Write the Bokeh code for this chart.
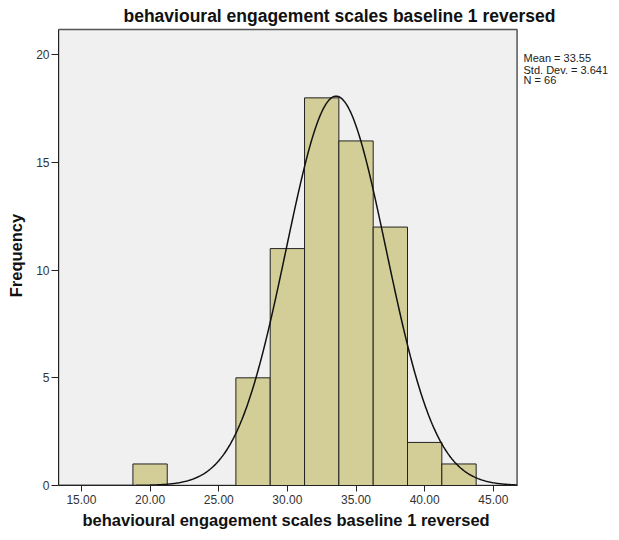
import math
from bokeh.plotting import figure
from bokeh.models import Range1d, FixedTicker, CustomJSTickFormatter, Title
from bokeh.core.properties import value
from bokeh.embed import file_html
from bokeh.resources import INLINE

# Histogram data (bin edges and counts)
bin_left = [18.75, 26.25, 28.75, 31.25, 33.75, 36.25, 38.75, 41.25]
bin_right = [21.25, 28.75, 31.25, 33.75, 36.25, 38.75, 41.25, 43.75]
counts = [1, 5, 11, 18, 16, 12, 2, 1]

mean = 33.55
std_dev = 3.641
n_obs = 66
bin_width = 2.5

x_ticks = [15, 20, 25, 30, 35, 40, 45]
y_ticks = [0, 5, 10, 15, 20]
stats_lines = ["Mean = 33.55", "Std. Dev. = 3.641", "N = 66"]

X0, X1 = 13.33, 46.73      # plot panel extent
Y1 = 21.17

p = figure(width=612, height=532, output_backend="svg", toolbar_location=None,
           x_range=Range1d(X0, 53.68), y_range=Range1d(0, 21.36),
           min_border_left=58, min_border_right=0, min_border_top=25, min_border_bottom=47)

p.background_fill_color = "white"
p.border_fill_color = "white"
p.outline_line_color = None
p.grid.visible = False

# gray plot panel
p.quad(left=[X0], right=[X1], bottom=[0], top=[Y1],
       fill_color="#F0F0F0", line_color="#555555", line_width=1.5)

p.quad(left=bin_left, right=bin_right, bottom=0, top=counts,
       fill_color="#D3CE97", line_color="#222222", line_width=1)

# Normal curve from stated mean / SD / N
xs = [X0 + i * (X1 - X0) / 400 for i in range(401)]
ys = [n_obs * bin_width / (std_dev * math.sqrt(2 * math.pi)) *
      math.exp(-0.5 * ((x - mean) / std_dev) ** 2) for x in xs]
p.line(xs, ys, line_color="#111111", line_width=1.5)

p.text(x=[47.2] * 3, y=[19.87, 19.30, 18.81], text=stats_lines,
       text_font=value("Liberation Sans"), text_font_size="11px",
       text_color="#222222", text_baseline="middle", text_align="left")

p.xaxis.ticker = FixedTicker(ticks=x_ticks)
p.yaxis.ticker = FixedTicker(ticks=y_ticks)
p.xaxis.bounds = (X0, X1)
p.yaxis.bounds = (0, Y1)
p.xaxis.formatter = CustomJSTickFormatter(code="return tick.toFixed(2);")
p.yaxis.formatter = CustomJSTickFormatter(code="return tick.toFixed(0);")
for ax in (p.xaxis, p.yaxis):
    ax.minor_tick_line_color = None
    ax.major_tick_in = 0
    ax.major_tick_line_color = "#222222"
    ax.axis_line_color = "#222222"
    ax.major_label_text_font = "Liberation Sans"
    ax.major_label_text_font_size = "12px"
    ax.major_label_text_color = "#333333"
    ax.axis_label_text_font = "Liberation Sans"
    ax.axis_label_text_font_style = "bold"
    ax.axis_label_text_font_size = "16.5px"
    ax.axis_label_text_color = "#111111"

p.xaxis.major_tick_out = 6
p.yaxis.major_tick_out = 7
p.xaxis.major_label_standoff = 3
p.yaxis.major_label_standoff = 2
p.yaxis.axis_label = "Frequency"
p.yaxis.axis_label_standoff = 8

p.title = Title(text="behavioural engagement scales baseline 1 reversed",
                align="left", offset=65, standoff=0, text_font="Liberation Sans",
                text_font_size="17.5px", text_font_style="bold", text_color="#111111")

p.add_layout(Title(text="behavioural engagement scales baseline 1 reversed",
                   align="left", offset=24, standoff=4, text_font="Liberation Sans",
                   text_font_size="16.5px", text_font_style="bold", text_color="#111111"),
             "below")

open("out.html", "w").write(file_html(p, INLINE))
